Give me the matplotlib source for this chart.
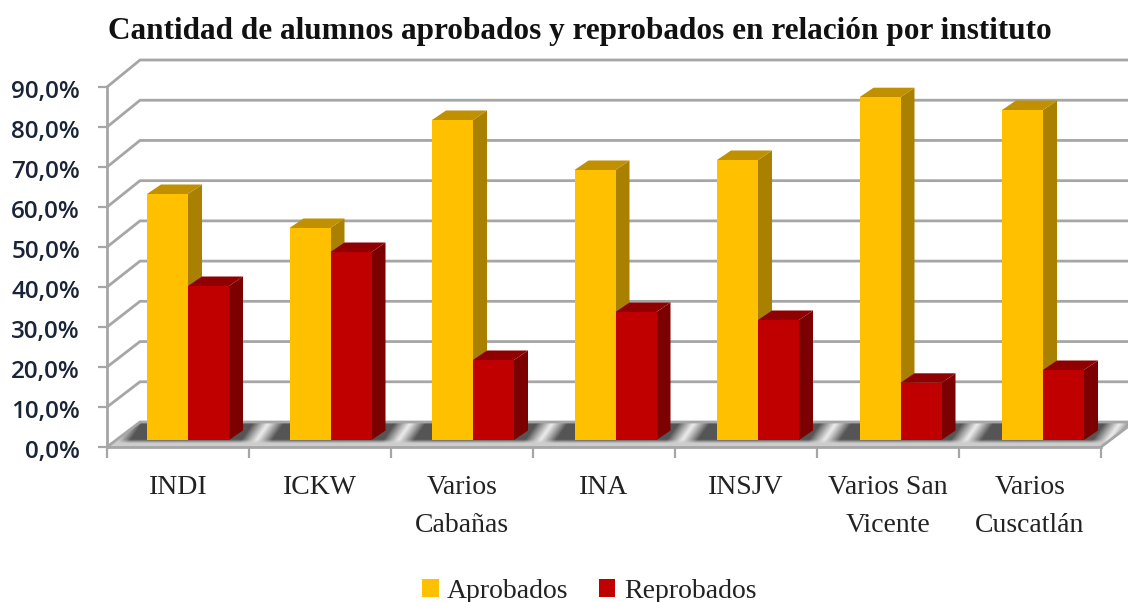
import numpy as np
import matplotlib
matplotlib.use('Agg')
import matplotlib.pyplot as plt
from matplotlib.patches import Polygon, Patch
from matplotlib.transforms import ScaledTranslation

categories = ['INDI', 'ICKW', 'Varios\nCabañas', 'INA', 'INSJV', 'Varios San\nVicente', 'Varios\nCuscatlán']
aprobados = [61.5, 53.0, 80.0, 67.5, 70.0, 85.7, 82.5]
reprobados = [38.5, 47.0, 20.0, 32.0, 30.0, 14.3, 17.5]
yticks = [0, 10, 20, 30, 40, 50, 60, 70, 80, 90]
ylabels = ['0,0%', '10,0%', '20,0%', '30,0%', '40,0%', '50,0%', '60,0%', '70,0%', '80,0%', '90,0%']

W, H = 1128, 602
PX = 1 / 142.0   # one pixel in category units
PY = 90 / 360.0  # one pixel in percent units
GRID = '#a6a6a6'

fig = plt.figure(figsize=(W / 100, H / 100), dpi=100)
ax = fig.add_axes([107 / W, (H - 447) / H, 994 / W, 360 / H])
ax.set_xlim(0, 7)
ax.set_ylim(0, 90)
ax.patch.set_alpha(0)

# depth of the wall and of the bars
wall_x, wall_y = 33 * PX, 25 * PY
base_x, base_y = 10 * PX, 7 * PY
top_x, top_y = 14 * PX, 9.5 * PY
bar_w = 41 * PX

# floor with the dark and light bands
floor = Polygon([[0, 0], [wall_x, wall_y], [7 + wall_x, wall_y], [7, 0]], closed=True,
                transform=ax.transData, fc='none', ec='none')
ax.add_patch(floor)
xs = np.linspace(0, 7.4, 1400)
ys = np.linspace(0, wall_y, 60)
xx, yy = np.meshgrid(xs, ys)
t = yy / wall_y
dist = np.abs(((xx - 0.52 - 0.12 * t) % 1) - 0.5)
shade = 235 - 150 * np.clip(dist / 0.11, 0, 1) ** 1.1
fade = np.clip((0.3 - t) / 0.15, 0, 1)
shade = shade * (1 - fade) + 205 * fade
im = ax.imshow(shade, extent=[0, 7.4, 0, wall_y], origin='lower', cmap='gray', vmin=0, vmax=255,
               aspect='auto', zorder=1, interpolation='bilinear')
im.set_clip_path(floor)
im.set_clip_box(fig.bbox)
ax.set_xlim(0, 7)
ax.set_ylim(0, 90)

# back wall and side wall lines
for v in yticks:
    wy = wall_y + v / 90 * 2 * PY
    ax.plot([0, wall_x, 7 + wall_x], [v, v + wy, v + wy], color=GRID, lw=2.0,
            zorder=2, clip_on=False, solid_joinstyle='miter')
ax.plot([7, 7 + wall_x], [0, wall_y], color=GRID, lw=2.0, zorder=2, clip_on=False)


def draw_bar(x0, val, front, side, top):
    x = x0 + base_x
    y = base_y
    x1 = x + bar_w
    ax.add_patch(Polygon([[x1, y], [x1 + top_x, y + top_y], [x1 + top_x, y + val + top_y], [x1, y + val]],
                         closed=True, fc=side, ec='none', zorder=3, clip_on=False))
    ax.add_patch(Polygon([[x, y + val], [x + top_x, y + val + top_y], [x1 + top_x, y + val + top_y], [x1, y + val]],
                         closed=True, fc=top, ec='none', zorder=3, clip_on=False))
    ax.bar(x, val, width=bar_w, bottom=y, align='edge', color=front, zorder=3, clip_on=False)


centers = np.arange(len(categories)) + 0.5
for i in range(len(categories)):
    c = centers[i] + i * 0.5 * PX
    draw_bar(c - bar_w, aprobados[i], '#ffc000', '#a98000', '#c09000')
    draw_bar(c, reprobados[i], '#c00000', '#7c0000', '#900000')

# axes lines and ticks
for s in ['top', 'right']:
    ax.spines[s].set_visible(False)
for s in ['left', 'bottom']:
    ax.spines[s].set_color(GRID)
    ax.spines[s].set_linewidth(2.0)
    ax.spines[s].set_zorder(4)

ax.set_yticks(yticks)
ax.set_yticklabels(ylabels, fontsize=17.5, fontfamily='Open Sans', fontweight='semibold', color='#1a2438')
ax.tick_params(axis='y', length=6.5, width=1.6, color=GRID, pad=13)
shift = ScaledTranslation(0, -2 / 100, fig.dpi_scale_trans)
for lab in ax.get_yticklabels():
    lab.set_transform(lab.get_transform() + shift)
ax.set_xticks(np.arange(8))
ax.set_xticklabels([])
ax.tick_params(axis='x', which='major', length=8, width=1.6, color=GRID)
ax.set_xticks(centers, minor=True)
ax.set_xticklabels(categories, minor=True, fontsize=20, fontfamily='Liberation Serif', color='#222222',
                   linespacing=1.7)
ax.tick_params(axis='x', which='minor', length=0, pad=20)

fig.text(580 / W, 1 - 32 / H, 'Cantidad de alumnos aprobados y reprobados en relación por instituto',
         ha='center', va='center', fontsize=22.5, fontweight='bold', fontfamily='Liberation Serif', color='#111111')

handles = [Patch(fc='#ffc000', label='Aprobados'), Patch(fc='#c00000', label='Reprobados')]
fig.legend(handles=handles, loc='center', bbox_to_anchor=(589 / W, 1 - 591 / H), ncol=2, frameon=False,
           handlelength=0.61, handleheight=0.61, handletextpad=0.3, columnspacing=1.08,
           prop={'family': 'Liberation Serif', 'size': 20}, labelcolor='#222222')

fig.savefig('out.png', dpi=100)
